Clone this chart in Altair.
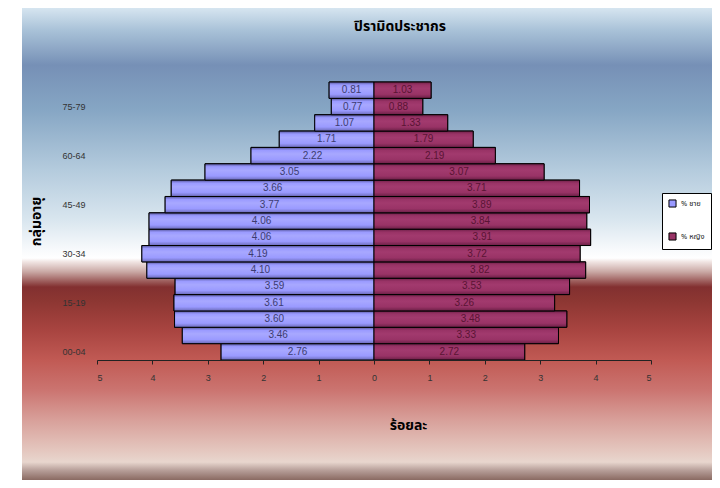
import altair as alt
import pandas as pd

ages = ["00-04", "05-09", "10-14", "15-19", "20-24", "25-29", "30-34", "35-39",
        "40-44", "45-49", "50-54", "55-59", "60-64", "65-69", "70-74", "75-79", "80+"]
male = [2.76, 3.46, 3.60, 3.61, 3.59, 4.10, 4.19, 4.06, 4.06, 3.77, 3.66, 3.05,
        2.22, 1.71, 1.07, 0.77, 0.81]
female = [2.72, 3.33, 3.48, 3.26, 3.53, 3.82, 3.72, 3.91, 3.84, 3.89, 3.71, 3.07,
          2.19, 1.79, 1.33, 0.88, 1.03]
series = ["% ชาย", "% หญิง"]
colors = ["#9999FF", "#993366"]
text_colors = ["#3c3c70", "#5a1434"]
shown_labels = ["00-04", "15-19", "30-34", "45-49", "60-64", "75-79"]
x_ticks = [-5, -4, -3, -2, -1, 0, 1, 2, 3, 4, 5]
title_text = "ปิรามิดประชากร"

rows = []
for a, m, f in zip(ages, male, female):
    rows.append({"age": a, "sex": series[0], "val": -m, "abs": m, "mid": -m / 2, "tc": text_colors[0]})
    rows.append({"age": a, "sex": series[1], "val": f, "abs": f, "mid": f / 2, "tc": text_colors[1]})
df = pd.DataFrame(rows)

FONT = "Liberation Sans Narrow, Liberation Sans, Arial, sans-serif"
THAI = "Noto Sans Thai, Tahoma, Noto Sans, DejaVu Sans, sans-serif"

W, H = 554, 278
PL, PT = 89, 74

bg_grad = alt.LinearGradient(
    gradient="linear", x1=0, x2=0, y1=0, y2=1,
    stops=[
        alt.GradientStop(offset=0.0, color="#d6e5f0"),
        alt.GradientStop(offset=0.047, color="#a9c2d8"),
        alt.GradientStop(offset=0.121, color="#7690b6"),
        alt.GradientStop(offset=0.216, color="#86a6c4"),
        alt.GradientStop(offset=0.343, color="#b4cbdd"),
        alt.GradientStop(offset=0.449, color="#d9e6ef"),
        alt.GradientStop(offset=0.513, color="#f8fafc"),
        alt.GradientStop(offset=0.530, color="#ffffff"),
        alt.GradientStop(offset=0.538, color="#f0e4e2"),
        alt.GradientStop(offset=0.559, color="#c9a8a4"),
        alt.GradientStop(offset=0.591, color="#823030"),
        alt.GradientStop(offset=0.619, color="#8c3632"),
        alt.GradientStop(offset=0.682, color="#a84440"),
        alt.GradientStop(offset=0.746, color="#c15a54"),
        alt.GradientStop(offset=0.809, color="#cb7470"),
        alt.GradientStop(offset=0.873, color="#d8a09a"),
        alt.GradientStop(offset=0.936, color="#e4c6be"),
        alt.GradientStop(offset=0.962, color="#e8d6ce"),
        alt.GradientStop(offset=0.979, color="#b8a09a"),
        alt.GradientStop(offset=1.0, color="#8a6a62"),
    ],
)

one = pd.DataFrame({"t": [title_text]})

bg = alt.Chart(one).mark_rect(fill=bg_grad).encode(
    x=alt.value(14 - PL), x2=alt.value(704 - PL),
    y=alt.value(0 - PT), y2=alt.value(472 - PT),
)

title = alt.Chart(one).mark_text(
    font=THAI, fontSize=14, fontWeight="bold", color="#000000",
    align="center", baseline="middle",
).encode(
    text="t:N", x=alt.value(400 - 8 - PL), y=alt.value(27 - 8 - PT),
)

def bar_grad(dark_top, light, mid, dark_bot):
    return alt.LinearGradient(
        gradient="linear", x1=0, x2=0, y1=0, y2=1,
        stops=[
            alt.GradientStop(offset=0.0, color=dark_top),
            alt.GradientStop(offset=0.18, color=light),
            alt.GradientStop(offset=0.40, color=mid),
            alt.GradientStop(offset=0.75, color=light),
            alt.GradientStop(offset=1.0, color=dark_bot),
        ],
    )

male_grad = bar_grad("#55559a", "#9a9aff", "#a8a8ff", "#6a6ab8")
female_grad = bar_grad("#6e2048", "#993366", "#a23a6e", "#6a1f45")

y_enc = alt.Y(
    "age:N", sort=list(reversed(ages)),
    scale=alt.Scale(paddingInner=0, paddingOuter=0),
    axis=alt.Axis(
        title="กลุ่มอายุ", titleFont=THAI, titleFontSize=14, titleFontWeight="bold",
        titleColor="#000000", titleAngle=270, titleX=-61, titleY=139,
        titleAlign="center", titleBaseline="middle",
        labelExpr="indexof(" + str(shown_labels) + ", datum.value) >= 0 ? datum.value : ''",
        labelFont=FONT, labelFontSize=9, labelColor="#333333", labelPadding=12,
        ticks=False, domain=False, grid=False, zindex=1,
    ),
)
x_enc = alt.X(
    "val:Q", stack=None,
    scale=alt.Scale(domain=[-5, 5], nice=False, zero=False),
    axis=alt.Axis(
        title="ร้อยละ", titleFont=THAI, titleFontSize=14, titleFontWeight="bold",
        titleColor="#000000", titleX=311, titleY=65, titleAlign="center",
        titleBaseline="middle",
        values=x_ticks, labelExpr="abs(datum.value)", labelFont=FONT,
        labelFontSize=9, labelColor="#333333", labelPadding=9,
        tickSize=4, tickColor="#222222", domainColor="#222222", grid=False, zindex=1,
    ),
)

flat = alt.Chart(df).mark_bar(stroke="black", strokeWidth=1).encode(
    x=x_enc, y=y_enc,
    color=alt.Color(
        "sex:N",
        scale=alt.Scale(domain=series, range=colors),
        legend=alt.Legend(
            title=None, orient="none", legendX=565, legendY=111,
            fillColor="#ffffff", strokeColor="#000000", padding=6,
            symbolType="square", symbolSize=50, symbolStrokeColor="#000000",
            symbolStrokeWidth=1, symbolOffset=0, labelOffset=4,
            labelFont=THAI, labelFontSize=7.5,
            labelColor="#222222", rowPadding=20, zindex=1,
        ),
    ),
)

gm = alt.Chart(df).transform_filter(alt.datum.sex == series[0]).mark_bar(
    fill=male_grad, stroke="black", strokeWidth=1).encode(x=x_enc, y=y_enc)
gf = alt.Chart(df).transform_filter(alt.datum.sex == series[1]).mark_bar(
    fill=female_grad, stroke="black", strokeWidth=1).encode(x=x_enc, y=y_enc)

labels = alt.Chart(df).mark_text(font=FONT, fontSize=10, baseline="middle").encode(
    x=alt.X("mid:Q"), y=y_enc,
    text=alt.Text("abs:Q", format=".2f"),
    color=alt.Color("tc:N", scale=None),
)

chart = alt.layer(bg, title, flat, gm, gf, labels).properties(
    width=W, height=H,
    autosize="none",
    padding={"left": PL, "top": PT, "right": 704 - PL - W, "bottom": 472 - PT - H},
).configure_view(stroke=None)

chart.save("out.html", embed_options={"renderer": "svg", "actions": False})
